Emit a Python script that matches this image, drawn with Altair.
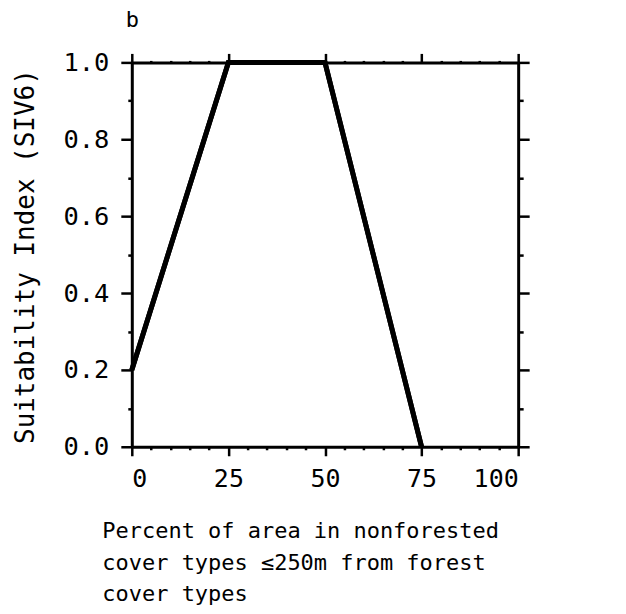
import altair as alt
import pandas as pd

# data
pct = [0, 25, 50, 75]
siv = [0.2, 1.0, 1.0, 0.0]
x_ticks = list(range(0, 101, 5))
y_ticks = [round(i * 0.1, 1) for i in range(11)]
x_title = ["Percent of area in nonforested", "cover types \u2264250m from forest", "cover types"]
y_title = "Suitability Index (SIV6)"
panel = "b"

df = pd.DataFrame({"pct": pct, "siv": siv})
FONT = "DejaVu Sans Mono"

major_x = "datum.value % 25 === 0"
major_y = "round(datum.value * 10) % 2 === 0"


def tick_size(test, big, small):
    return {"condition": {"test": test, "value": big}, "value": small}


common = dict(domainColor="black", domainWidth=3, tickColor="black", tickWidth=2.5,
              grid=False, labelFont=FONT, labelColor="black", titleFont=FONT,
              titleColor="black", titleFontWeight="normal", labelOverlap=False)

x_bottom = alt.Axis(orient="bottom", values=x_ticks,
                    labelExpr="datum.value % 25 === 0 ? datum.label : ''",
                    tickSize=tick_size(major_x, 9, 3), labelFontSize=25, labelPadding=11,
                    title=x_title, titleFontSize=22, titleAlign="left", titleAnchor="start",
                    titleBaseline="top", titleX=-30, titleY=74, titleLineHeight=31.5, **common)
y_left = alt.Axis(orient="left", values=y_ticks,
                  labelExpr=f"{major_y} ? format(datum.value, '.1f') : ''",
                  tickSize=tick_size(major_y, 11, 4), labelFontSize=25.5, labelPadding=12,
                  title=y_title, titleFontSize=26, titleX=-106, titleY=194,
                  titleAngle=-90, titleBaseline="middle", titleAlign="center", **common)
x_top = alt.Axis(orient="top", values=x_ticks, labels=False, title=None,
                 tickSize=tick_size(major_x, 9, 2), **common)
y_right = alt.Axis(orient="right", values=y_ticks, labels=False, title=None,
                   tickSize=tick_size(major_y, 11, 5), **common)

xs = alt.Scale(domain=[0, 100], nice=False)
ys = alt.Scale(domain=[0, 1], nice=False)

line1 = alt.Chart(df).mark_line(color="black", strokeWidth=5, clip=False).encode(
    x=alt.X("pct:Q", scale=xs, axis=x_bottom),
    y=alt.Y("siv:Q", scale=ys, axis=y_left),
)
line2 = alt.Chart(df).mark_line(color="black", strokeWidth=5, clip=False).encode(
    x=alt.X("pct:Q", scale=xs, axis=x_top),
    y=alt.Y("siv:Q", scale=ys, axis=y_right),
)

chart = alt.layer(line1, line2).resolve_axis(x="independent", y="independent").properties(
    width=387, height=385,
    autosize=alt.AutoSizeParams(type="none"),
    padding={"left": 124, "top": 54, "right": 100, "bottom": 160},
    title=alt.TitleParams(panel, anchor="start", frame="group", font=FONT, fontSize=22,
                          fontWeight="normal", color="black", dx=-6, offset=18),
).configure_view(stroke=None).configure(background="white")

chart.save("out.html", embed_options={"renderer": "svg", "actions": False})
